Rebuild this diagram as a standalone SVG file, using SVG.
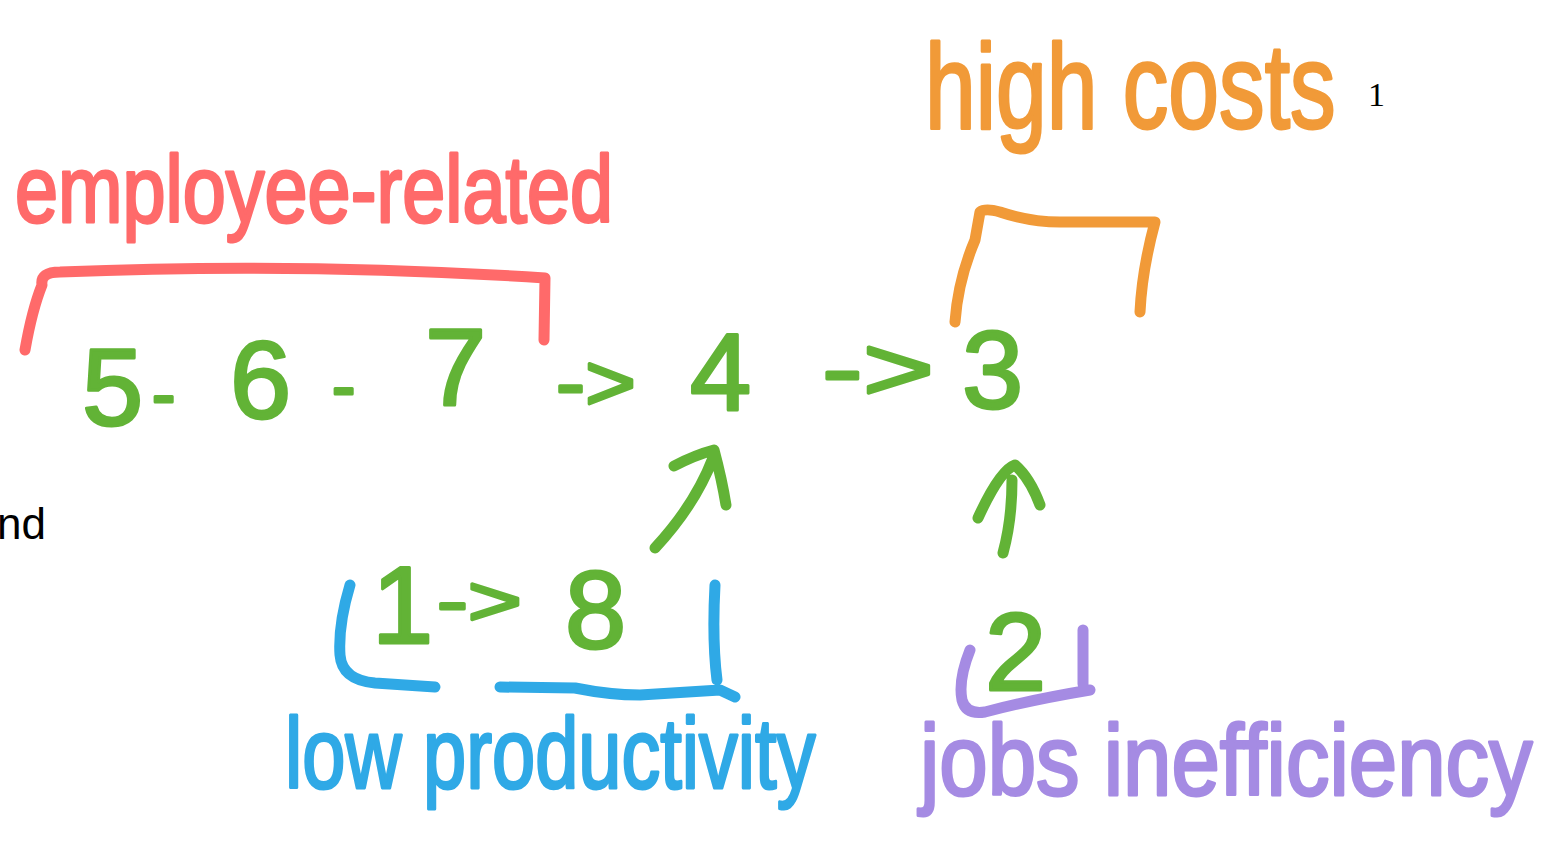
<svg xmlns="http://www.w3.org/2000/svg" width="1555" height="845" viewBox="0 0 1555 845">
<style>
.hand{font-family:"Liberation Sans","Open Sans",sans-serif;stroke-linejoin:round;}
.red{fill:#FF6A6A;stroke:#FF6A6A;}
.org{fill:#F19A38;stroke:#F19A38;}
.grn{fill:#62B336;stroke:#62B336;}
.blu{fill:#2FA9E6;stroke:#2FA9E6;}
.pur{fill:#A58BE3;stroke:#A58BE3;}
.ln{fill:none;stroke-width:11;stroke-linecap:round;stroke-linejoin:round;}
.t{stroke-width:3;}
</style>
<rect width="1555" height="845" fill="#ffffff"/>
<g id="label-employee">
<text class="hand red t" transform="translate(15,222) scale(0.815,1)" x="0" y="0" font-size="95">employee-related</text>
</g>
<g id="label-costs">
<text class="hand org t" transform="translate(925,128) scale(0.76,1)" x="0" y="0" font-size="120">high costs</text>
<text x="1368" y="106" font-family="Liberation Serif, serif" font-size="34" fill="#000">1</text>
</g>
<g id="fragment-nd">
<text x="-3" y="539" font-family="Liberation Sans, sans-serif" font-size="44" fill="#000">nd</text>
</g>
<g id="chain">
<text class="hand grn t" x="82" y="425" font-size="110">5</text>
<text class="hand grn t" x="152" y="418" font-size="70">-</text>
<text class="hand grn t" x="230" y="418" font-size="110">6</text>
<text class="hand grn t" x="332" y="410" font-size="70">-</text>
<text class="hand grn t" x="425" y="405" font-size="110">7</text>
<text class="hand grn t" x="556" y="410" font-size="80" textLength="80" lengthAdjust="spacingAndGlyphs">-&gt;</text>
<text class="hand grn t" x="690" y="410" font-size="110">4</text>
<text class="hand grn t" x="822" y="400" font-size="90" textLength="112" lengthAdjust="spacingAndGlyphs">-&gt;</text>
<text class="hand grn t" x="962" y="408" font-size="110">3</text>
</g>
<g id="node-1-8">
<text class="hand grn t" x="372" y="643" font-size="110">1</text>
<text class="hand grn t" x="437" y="625" font-size="70" textLength="85" lengthAdjust="spacingAndGlyphs">-&gt;</text>
<text class="hand grn t" x="565" y="648" font-size="110">8</text>
</g>
<g id="node-2">
<text class="hand grn t" x="985" y="690" font-size="110">2</text>
</g>
<g id="label-low">
<text class="hand blu t" transform="translate(285,788) scale(0.776,1)" x="0" y="0" font-size="100">low productivity</text>
</g>
<g id="label-jobs">
<text class="hand pur t" transform="translate(920,795) scale(0.87,1)" x="0" y="0" font-size="100">jobs inefficiency</text>
</g>
<g id="connectors">
<path class="ln red" d="M25 350 Q32 310 42 285 Q40 272 60 272 Q300 262 545 278 L544 340"/>
<path class="ln org" d="M955 322 Q958 280 975 240 L980 212 Q985 208 1000 212 Q1030 222 1060 222 L1155 222 Q1142 270 1140 312"/>
<path class="ln grn" d="M655 548 Q695 505 713 458 M674 466 Q695 455 714 450 Q722 480 726 505"/>
<path class="ln grn" d="M1003 553 Q1012 520 1012 480 M978 518 Q1000 470 1015 465 Q1030 478 1040 505"/>
<path class="ln blu" d="M350 585 Q338 625 340 655 Q342 680 375 683 L435 687 M500 687 L575 688 Q610 695 640 695 L720 690 L735 697 M715 585 Q712 640 717 680"/>
<path class="ln pur" d="M970 650 Q958 680 962 700 Q966 715 985 712 Q1030 700 1090 690 M1083 630 L1083 684"/>
</g>
</svg>
